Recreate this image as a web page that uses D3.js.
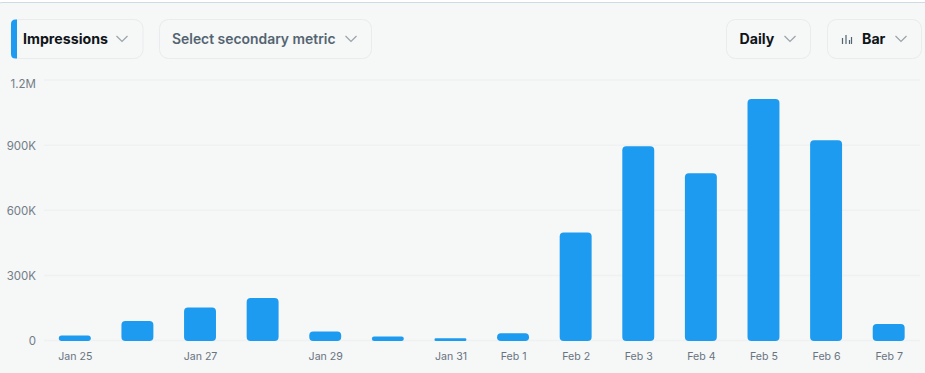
<!DOCTYPE html>
<html><head><meta charset="utf-8">
<script src="https://cdn.jsdelivr.net/npm/d3@7/dist/d3.min.js"></script>
<style>html,body{margin:0;padding:0;background:#fff;overflow:hidden}svg{display:block}text{font-family:Inter,sans-serif}</style>
</head><body><svg id="c" width="925" height="373"></svg>
<script>
const dates=["Jan 25","Jan 26","Jan 27","Jan 28","Jan 29","Jan 30","Jan 31","Feb 1","Feb 2","Feb 3","Feb 4","Feb 5","Feb 6","Feb 7"];
const impressions=[23000,90000,152000,196000,41000,18000,10000,33000,498000,895000,770000,1113000,923000,76000];
const tickValues=[0,300000,600000,900000,1200000];
const tickLabels=["0","300K","600K","900K","1.2M"];
const shownDates=["Jan 25","Jan 27","Jan 29","Jan 31","Feb 1","Feb 2","Feb 3","Feb 4","Feb 5","Feb 6","Feb 7"];
const svg=d3.select("#c");
// panel
svg.append("rect").attr("x",-8).attr("y",2.5).attr("width",960).attr("height",400).attr("rx",10)
 .attr("fill","#f6f7f7").attr("stroke","#cfdbe4").attr("stroke-width",1);
const x=d3.scaleBand().domain(dates).range([43.5,920]).paddingInner(0.49).paddingOuter(0.245);
const y=d3.scaleLinear().domain([0,1200000]).range([340.5,80]);
// grid
svg.append("g").selectAll("line").data(tickValues).join("line")
 .attr("x1",44).attr("x2",920).attr("y1",d=>y(d)).attr("y2",d=>y(d))
 .attr("stroke","#eff1f2").attr("stroke-width",1.5);
const yAxis=d3.axisLeft(y).tickValues(tickValues).tickFormat((d,i)=>tickLabels[i]).tickSize(0).tickPadding(0);
const gy=svg.append("g").attr("transform","translate(36,0)").call(yAxis);
gy.select(".domain").remove();
gy.selectAll("text").attr("fill","#727d88").attr("font-size",11.5)
  .attr("dy",d=>d===1200000?"0.62em":"0.36em");
// bars
const r=4;
svg.append("g").selectAll("path").data(impressions).join("path")
 .attr("fill","#1d9bf0")
 .attr("d",(d,i)=>{
   const x0=x(dates[i]),w=x.bandwidth(),t=y(d),b=y(0)+0.5,rr=Math.min(r,(b-t)/2);
   return `M${x0},${t+rr}Q${x0},${t} ${x0+rr},${t}H${x0+w-rr}Q${x0+w},${t} ${x0+w},${t+rr}V${b-rr}Q${x0+w},${b} ${x0+w-rr},${b}H${x0+rr}Q${x0},${b} ${x0},${b-rr}Z`;
 });
const xAxis=d3.axisBottom(x).tickValues(shownDates).tickSize(0).tickPadding(0);
const gx=svg.append("g").attr("transform","translate(0.5,352)").call(xAxis);
gx.select(".domain").remove();
gx.selectAll("text").attr("fill","#68737f").attr("font-size",10.6).attr("dy","0.71em");
// controls
const controls=[
 {x:11,w:132,label:"Impressions",tx:23,col:"#0f1419",chev:122,w8:700,fs:14.2},
 {x:159.5,w:212,label:"Select secondary metric",tx:172,col:"#536471",chev:351,w8:600,fs:13.9},
 {x:726.5,w:84,label:"Daily",tx:739.5,col:"#0f1419",chev:790,w8:700,fs:14.2},
 {x:827.5,w:94,label:"Bar",tx:862,col:"#0f1419",chev:901,w8:700,fs:14.2}];
const cg=svg.append("g");
controls.forEach(c=>{
  cg.append("rect").attr("x",c.x).attr("y",19.5).attr("width",c.w).attr("height",39).attr("rx",9)
    .attr("fill","#f6f7f7").attr("stroke","#e9ebec");
  cg.append("text").attr("x",c.tx).attr("y",44).attr("font-size",c.fs).attr("font-weight",c.w8).attr("fill",c.col).text(c.label);
  cg.append("path").attr("d",`M${c.chev-5.5},36l5.5,5.5l5.5,-5.5`).attr("fill","none").attr("stroke","#9aa3ab").attr("stroke-width",1.2);
});
cg.append("path").attr("d","M17,19.5H15.5Q11,19.5 11,24V54Q11,58.5 15.5,58.5H17Z").attr("fill","#1d9bf0");
const icon=[[842.5,38,44],[846,35,44],[849.5,40,44],[851.5,37,44]];
cg.append("path").attr("d",icon.map(d=>`M${d[0]},${d[1]}V${d[2]}`).join("")).attr("stroke","#536471").attr("stroke-width",1.2).attr("fill","none");
</script></body></html>
